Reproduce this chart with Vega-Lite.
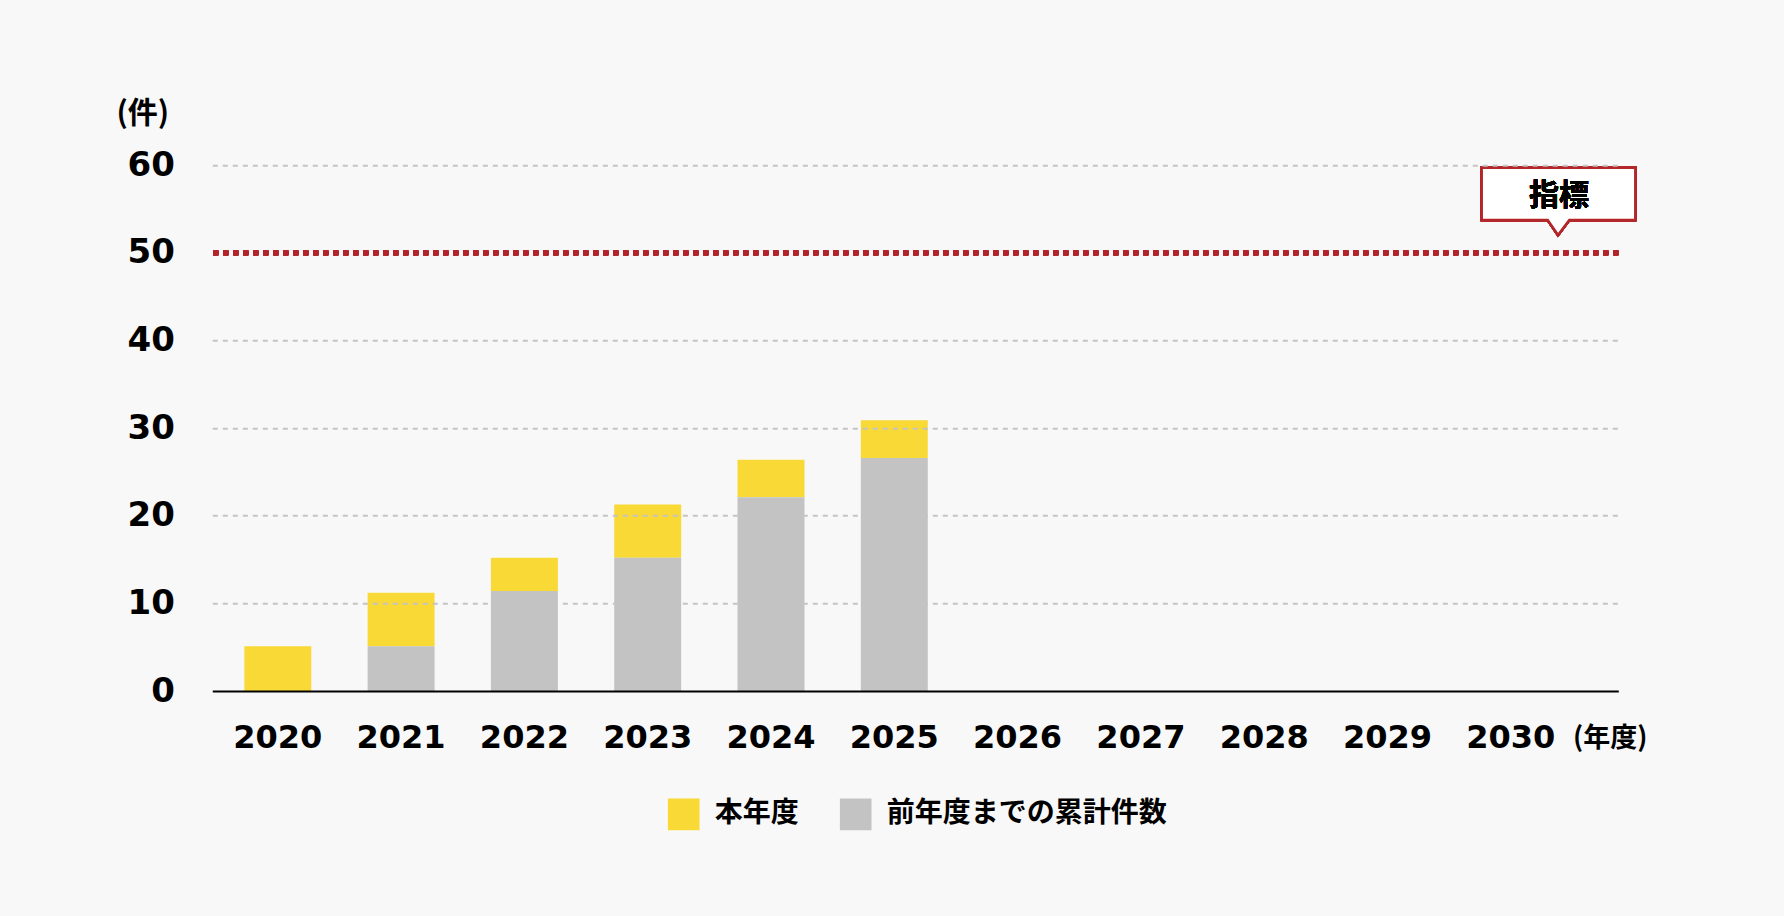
{
  "$schema": "https://vega.github.io/schema/vega-lite/v6.json",
  "autosize": {"type": "none"},
  "padding": {"left": 212.3, "top": 165.3, "right": 165.7, "bottom": 225},
  "width": 1406,
  "height": 525.7,
  "background": "#f8f8f8",
  "config": {"view": {"stroke": null}, "font": "DejaVu Sans"},
  "data": {
    "values": [
      {"年度": "2020", "区分": "本年度", "件数": 5.1},
      {"年度": "2020", "区分": "前年度までの累計件数", "件数": 0},
      {"年度": "2021", "区分": "本年度", "件数": 6.1},
      {"年度": "2021", "区分": "前年度までの累計件数", "件数": 5.1},
      {"年度": "2022", "区分": "本年度", "件数": 3.8},
      {"年度": "2022", "区分": "前年度までの累計件数", "件数": 11.4},
      {"年度": "2023", "区分": "本年度", "件数": 6.1},
      {"年度": "2023", "区分": "前年度までの累計件数", "件数": 15.2},
      {"年度": "2024", "区分": "本年度", "件数": 4.3},
      {"年度": "2024", "区分": "前年度までの累計件数", "件数": 22.1},
      {"年度": "2025", "区分": "本年度", "件数": 4.3},
      {"年度": "2025", "区分": "前年度までの累計件数", "件数": 26.6}
    ]
  },
  "layer": [
    {
      "mark": {"type": "bar"},
      "encoding": {
        "x": {
          "field": "年度",
          "type": "nominal",
          "scale": {
            "domain": ["2020", "2021", "2022", "2023", "2024", "2025", "2026", "2027", "2028", "2029", "2030"],
            "paddingInner": 0.457,
            "paddingOuter": 0.43,
            "align": 0.302
          },
          "axis": {
            "title": "(年度)",
            "labelAngle": 0,
            "labelFont": "DejaVu Sans",
            "labelFontSize": 32,
            "labelFontWeight": "bold",
            "labelColor": "#000000",
            "labelPadding": 31,
            "ticks": false,
            "domainColor": "#000000",
            "domainWidth": 2,
            "grid": false,
            "zindex": 1,
            "titleFont": "Noto Sans CJK JP",
            "titleFontSize": 27,
            "titleFontWeight": "bold",
            "titleColor": "#000000",
            "titleX": 1397.4,
            "titleY": 47.5,
            "titleAlign": "center",
            "titleBaseline": "middle",
            "titleAngle": 0
          }
        },
        "y": {
          "field": "件数",
          "type": "quantitative",
          "scale": {"domain": [0, 60], "nice": false},
          "axis": {
            "title": "(件)",
            "values": [0, 10, 20, 30, 40, 50, 60],
            "domain": false,
            "ticks": false,
            "labelFont": "DejaVu Sans",
            "labelFontSize": 34,
            "labelFontWeight": "bold",
            "labelColor": "#000000",
            "labelPadding": 38,
            "grid": true,
            "gridColor": "#c4c4c4",
            "gridWidth": 2,
            "gridDash": [5, 5],
            "gridOpacity": {"condition": {"test": "datum.value === 50 || datum.value === 0", "value": 0}, "value": 1},
            "zindex": 1,
            "titleFont": "Noto Sans CJK JP",
            "titleFontSize": 30,
            "titleFontWeight": "bold",
            "titleColor": "#000000",
            "titleAngle": 0,
            "titleX": -70,
            "titleY": -52,
            "titleAlign": "center",
            "titleBaseline": "middle"
          }
        },
        "color": {
          "field": "区分",
          "type": "nominal",
          "scale": {"domain": ["本年度", "前年度までの累計件数"], "range": ["#f9d936", "#c3c3c3"]},
          "legend": {
            "title": null,
            "orient": "none",
            "legendX": 455.4,
            "legendY": 633,
            "direction": "horizontal",
            "symbolType": "square",
            "symbolSize": 1000,
            "symbolStrokeWidth": 0,
            "symbolOpacity": 1,
            "labelFont": "Noto Sans CJK JP",
            "labelFontSize": 28,
            "labelFontWeight": "bold",
            "labelColor": "#000000",
            "labelOffset": 15,
            "columnPadding": 40,
            "padding": 0,
            "labelLimit": 500
          }
        },
        "order": {"field": "区分", "sort": "ascending"}
      }
    },
    {
      "mark": {"type": "rule", "color": "#b3232a", "strokeWidth": 4.7, "strokeDash": [5, 5]},
      "encoding": {"y": {"datum": 50}}
    },
    {
      "mark": {
        "type": "point",
        "shape": "M -0.291 -0.852 L 1.245 -0.852 L 1.245 -0.329 L 0.585 -0.329 L 0.472 -0.179 L 0.369 -0.329 L -0.291 -0.329 Z",
        "size": 40000,
        "filled": true,
        "fill": "#ffffff",
        "stroke": "#b3262a",
        "strokeWidth": 2.5,
        "opacity": 1
      },
      "encoding": {"x": {"datum": "2030"}, "y": {"datum": 50}}
    },
    {
      "mark": {
        "type": "text",
        "text": "指標",
        "font": "Noto Sans CJK JP",
        "fontSize": 30,
        "fontWeight": "bold",
        "fill": "#000000",
        "dx": 48.2,
        "dy": -56.5,
        "align": "center",
        "baseline": "middle"
      },
      "encoding": {"x": {"datum": "2030"}, "y": {"datum": 50}}
    }
  ]
}
